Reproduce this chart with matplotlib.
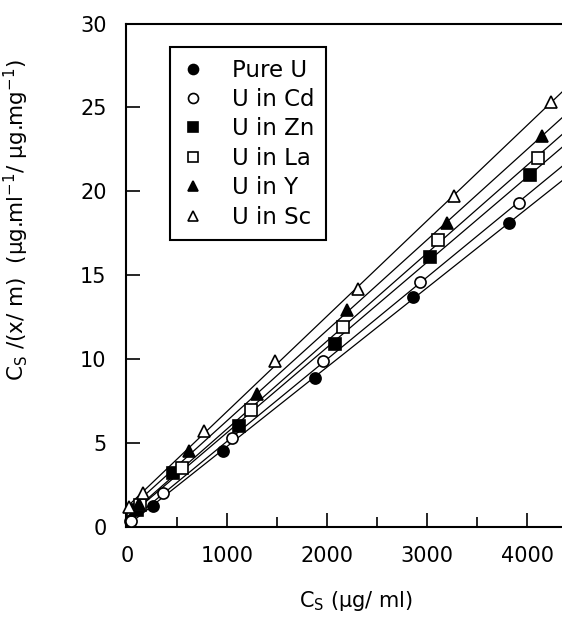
import numpy as np
import matplotlib
matplotlib.use("Agg")
import matplotlib.pyplot as plt
from matplotlib.ticker import MultipleLocator

plt.rcParams['font.family'] = ['DejaVu Sans']
plt.rcParams['mathtext.fontset'] = 'dejavusans'

# data
labels = ["Pure U", "U in Cd", "U in Zn", "U in La", "U in Y", "U in Sc"]
pure_x = [30, 260, 960, 1880, 2860, 3820]
pure_y = [0.35, 1.25, 4.5, 8.9, 13.7, 18.1]
cd_x = [40, 360, 1050, 1960, 2930, 3920]
cd_y = [0.35, 2.0, 5.3, 9.9, 14.6, 19.3]
zn_x = [100, 460, 1120, 2080, 3030, 4030]
zn_y = [1.0, 3.2, 6.0, 10.9, 16.1, 21.0]
la_x = [130, 550, 1240, 2160, 3110, 4110]
la_y = [1.3, 3.5, 7.0, 11.9, 17.1, 22.0]
yy_x = [120, 620, 1300, 2200, 3200, 4150]
yy_y = [1.4, 4.5, 7.9, 12.9, 18.1, 23.3]
sc_x = [20, 160, 770, 1480, 2310, 3270, 4240]
sc_y = [1.2, 2.0, 5.7, 9.9, 14.2, 19.7, 25.3]
xticks = [0, 1000, 2000, 3000, 4000]
yticks = [0, 5, 10, 15, 20, 25, 30]

series = [(pure_x, pure_y), (cd_x, cd_y), (zn_x, zn_y),
          (la_x, la_y), (yy_x, yy_y), (sc_x, sc_y)]
styles = [dict(marker='o', mfc='black'), dict(marker='o', mfc='white'),
          dict(marker='s', mfc='black'), dict(marker='s', mfc='white'),
          dict(marker='^', mfc='black'), dict(marker='^', mfc='white')]

fig = plt.figure(figsize=(5.62, 6.17), dpi=100)
ax = fig.add_axes([126/562, 90/617, 461/562, 503.5/617])

xl = np.array([0, 4600])
for (xs, ys), st, lab in zip(series, styles, labels):
    k, b = np.polyfit(xs, ys, 1)
    ax.plot(xl, k*xl + b, color='black', lw=0.9, zorder=2)
    ax.plot(xs, ys, linestyle='none', marker=st['marker'], mfc=st['mfc'],
            mec='black', mew=1.2, ms=8, label=lab, clip_on=False, zorder=3)

ax.set_xlim(-10, 4600)
ax.set_ylim(0, 30)
ax.set_xticks(xticks)
ax.set_yticks(yticks)
ax.xaxis.set_minor_locator(MultipleLocator(500))
ax.tick_params(axis='both', which='major', direction='in', length=10, width=1.2,
               labelsize=15)
ax.tick_params(axis='x', which='minor', direction='in', length=7, width=1.2)
ax.tick_params(axis='y', which='major', pad=14, left=True, right=False)
ax.tick_params(axis='x', which='major', pad=14, top=False)
ax.tick_params(axis='x', which='minor', top=False)

ax.spines['right'].set_visible(False)
for s in ['left', 'bottom', 'top']:
    ax.spines[s].set_linewidth(1.5)

ax.set_xlabel(r"C$_\mathrm{S}$ (μg/ ml)", fontsize=15, labelpad=16)
ax.set_ylabel(r"C$_\mathrm{S}$ /(x/ m)  (μg.ml$^{-1}$/ μg.mg$^{-1}$)", fontsize=15.5)
ax.yaxis.set_label_coords(-0.205, 0.61)

leg = ax.legend(loc='upper left', bbox_to_anchor=(0.0954, 0.953), borderaxespad=0,
                fontsize=16.5, frameon=True, fancybox=False, framealpha=1,
                handletextpad=1.2, labelspacing=0.28, borderpad=0.5,
                handlelength=1.0, markerscale=0.9)
leg.get_frame().set_edgecolor('black')
leg.get_frame().set_linewidth(1.5)

fig.savefig("out.png", dpi=100)
